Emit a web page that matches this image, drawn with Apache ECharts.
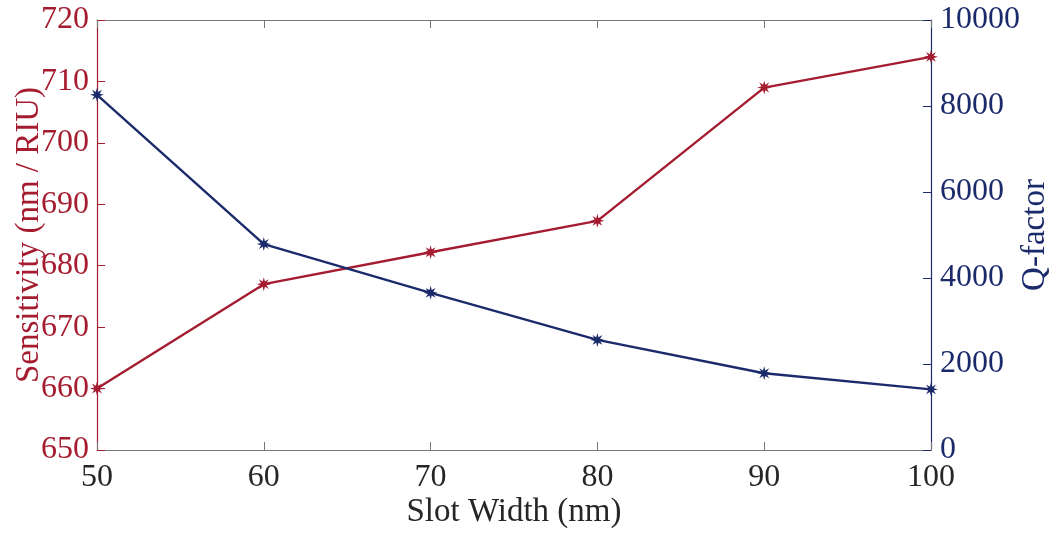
<!DOCTYPE html>
<html><head><meta charset="utf-8">
<script src="https://cdn.jsdelivr.net/npm/echarts@6/dist/echarts.min.js"></script>
<style>html,body{margin:0;padding:0;background:#fff}#c{width:1056px;height:534px}</style>
</head><body><div id="c"></div>
<script>
const slotWidth = [50, 60, 70, 80, 90, 100];
const sensitivity = [660, 677, 682.2, 687.3, 709, 714];
const qFactor = [8260, 4790, 3655, 2560, 1785, 1410];
const xTicks = [50, 60, 70, 80, 90, 100];

const RED = '#A51C30', BLUE = '#1B2A6B', GREY = '#777777', TXT = '#262626';
const FONT = 'Liberation Serif';

// asterisk-like symbol path (8 spokes)
let p = '';
for (let i = 0; i < 16; i++) {
  const a = i * Math.PI / 8;
  const r = i % 2 === 0 ? 10 : 4.2;
  const x = (r * Math.sin(a)).toFixed(2), y = (-r * Math.cos(a)).toFixed(2);
  p += (i === 0 ? 'M' : 'L') + x + ' ' + y + ' ';
}
p += 'Z';
const STAR = 'path://' + p;

const chart = echarts.init(document.getElementById('c'), null, {renderer: 'canvas'});
chart.setOption({
  animation: false,
  grid: {left: 97, right: 125, top: 20, bottom: 84, show: false, containLabel: false, outerBoundsMode: 'none'},
  xAxis: [{
    type: 'value', min: 50, max: 100, interval: 10, position: 'bottom',
    name: 'Slot Width (nm)', nameLocation: 'middle', nameGap: 46, nameMoveOverlap: false,
    nameTextStyle: {fontFamily: FONT, fontSize: 33, color: TXT},
    axisLine: {show: true, lineStyle: {color: GREY, width: 1.2}},
    axisTick: {show: true, inside: true, length: 8, lineStyle: {color: GREY}},
    axisLabel: {fontFamily: FONT, fontSize: 32, color: TXT, margin: 12,
      formatter: v => xTicks.includes(v) ? String(v) : ''},
    splitLine: {show: false}
  }, {
    type: 'value', min: 50, max: 100, interval: 10, position: 'top',
    axisLine: {show: true, lineStyle: {color: GREY, width: 1.2}},
    axisTick: {show: true, inside: true, length: 8, lineStyle: {color: GREY}},
    axisLabel: {show: false}, splitLine: {show: false}
  }],
  yAxis: [{
    type: 'value', min: 650, max: 720, interval: 10, position: 'left',
    name: 'Sensitivity (nm / RIU)', nameLocation: 'middle', nameGap: 51, nameRotate: 90, nameMoveOverlap: false,
    nameTextStyle: {fontFamily: FONT, fontSize: 33, color: RED},
    axisLine: {show: true, lineStyle: {color: RED, width: 1.2}},
    axisTick: {show: true, inside: true, length: 8, lineStyle: {color: RED}},
    axisLabel: {fontFamily: FONT, fontSize: 32, color: RED, margin: 8},
    splitLine: {show: false}
  }, {
    type: 'value', min: 0, max: 10000, interval: 2000, position: 'right',
    name: 'Q-factor', nameLocation: 'middle', nameGap: 88, nameRotate: 90, nameMoveOverlap: false,
    nameTextStyle: {fontFamily: FONT, fontSize: 33, color: BLUE},
    axisLine: {show: true, lineStyle: {color: BLUE, width: 1.2}},
    axisTick: {show: true, inside: true, length: 8, lineStyle: {color: BLUE}},
    axisLabel: {fontFamily: FONT, fontSize: 32, color: BLUE, margin: 9,
      formatter: v => String(v)},
    splitLine: {show: false}
  }],
  series: [{
    type: 'line', name: 'Sensitivity', xAxisIndex: 0, yAxisIndex: 0,
    data: slotWidth.map((x, i) => [x, sensitivity[i]]),
    lineStyle: {color: RED, width: 2.4}, itemStyle: {color: RED},
    symbol: STAR, symbolSize: 14, showAllSymbol: true, clip: false
  }, {
    type: 'line', name: 'Q-factor', xAxisIndex: 0, yAxisIndex: 1,
    data: slotWidth.map((x, i) => [x, qFactor[i]]),
    lineStyle: {color: BLUE, width: 2.4}, itemStyle: {color: BLUE},
    symbol: STAR, symbolSize: 14, showAllSymbol: true, clip: false
  }]
});
</script></body></html>
